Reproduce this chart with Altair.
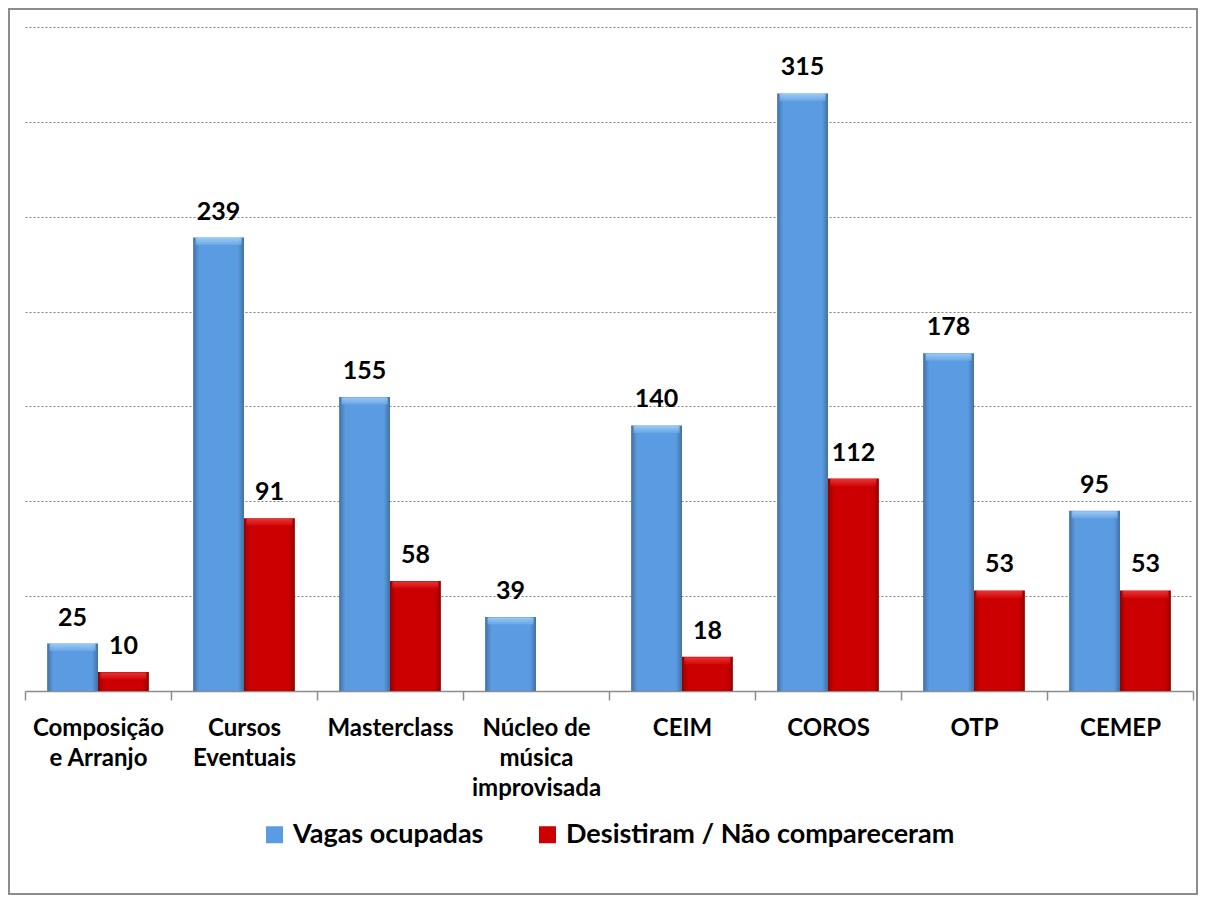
import altair as alt
import pandas as pd

categories = ["Composição\ne Arranjo", "Cursos\nEventuais", "Masterclass",
              "Núcleo de\nmúsica\nimprovisada", "CEIM", "COROS", "OTP", "CEMEP"]
series = ["Vagas ocupadas", "Desistiram / Não compareceram"]
vagas = [25, 239, 155, 39, 140, 315, 178, 95]
desist = [10, 91, 58, 0, 18, 112, 53, 53]

rows = []
for c, v, d in zip(categories, vagas, desist):
    rows.append({"cat": c, "serie": series[0], "valor": v})
    rows.append({"cat": c, "serie": series[1], "valor": d})
df = pd.DataFrame(rows)

BLUE = "#5B9BE1"
RED = "#CC0000"
FONT = "Lato"

x_enc = alt.X("cat:N", sort=categories, title=None,
              scale=alt.Scale(paddingInner=0, paddingOuter=0),
              axis=alt.Axis(labelAngle=0, labelFont=FONT, labelFontSize=24,
                            labelFontWeight="bold", labelColor="#000000",
                            labelLineHeight=30, labelPadding=16, labelLimit=300,
                            labelExpr="isValid(datum.value) ? split(datum.value, '\\n') : ''",
                            tickBand="extent", tickSize=9, tickColor="#8C8C8C",
                            tickWidth=1.5, domainColor="#8C8C8C", domainWidth=1.5,
                            grid=False, labelBaseline="top", labelOverlap=False))
xo_enc = alt.XOffset("serie:N", sort=series,
                     scale=alt.Scale(domain=series, paddingInner=0, paddingOuter=0.436))
y_enc = alt.Y("valor:Q", title=None,
              scale=alt.Scale(domain=[0, 350], nice=False),
              axis=alt.Axis(values=[50, 100, 150, 200, 250, 300, 350], grid=True,
                            gridDash=[2, 2], gridColor="#808080", gridWidth=1,
                            labels=False, ticks=False, domain=False))

base = alt.Chart(df)
xs = alt.X("cat:N", sort=categories)
xos = alt.XOffset("serie:N", sort=series)

bars = base.mark_bar().encode(
    x=x_enc, xOffset=xo_enc, y=y_enc,
    color=alt.Color("serie:N", sort=series,
                    scale=alt.Scale(domain=series, range=[BLUE, RED]),
                    legend=alt.Legend(orient="none", legendX=236, legendY=794,
                                      direction="horizontal", title=None,
                                      symbolType="square", symbolSize=289,
                                      symbolStrokeWidth=0, symbolOpacity=1,
                                      labelFont=FONT, labelFontSize=27,
                                      labelFontWeight="bold", labelColor="#000000",
                                      columnPadding=50, labelOffset=5,
                                      labelLimit=600, padding=0))
)

shade = base.transform_filter("datum.valor > 0").mark_bar(color=alt.LinearGradient(
    gradient="linear", x1=0, x2=1, y1=0, y2=0,
    stops=[alt.GradientStop(color="rgba(0,0,0,0.28)", offset=0),
           alt.GradientStop(color="rgba(0,0,0,0.0)", offset=0.12),
           alt.GradientStop(color="rgba(0,0,0,0.0)", offset=0.88),
           alt.GradientStop(color="rgba(0,0,0,0.28)", offset=1)])
).encode(x=xs, xOffset=xos, y="valor:Q")

def bevel(serie, light, main):
    return base.transform_filter(alt.datum.serie == serie).transform_filter(
        "datum.valor > 0").mark_tick(
        size=46, thickness=7, orient="horizontal",
        color=alt.LinearGradient(gradient="linear", x1=0, x2=0, y1=0, y2=1,
                                 stops=[alt.GradientStop(color=light, offset=0),
                                        alt.GradientStop(color=main, offset=1)])
    ).encode(x=xs, xOffset=xos, y="valor:Q", yOffset=alt.value(4))

bev_b = bevel(series[0], "#B3DDFB", "#6FAAE8")
bev_r = bevel(series[1], "#F24A4A", "#D40A0A")

labels = base.transform_filter("datum.valor > 0").mark_text(
    font=FONT, fontSize=25, fontWeight="bold", color="#000000",
    baseline="alphabetic", dy=-18
).encode(x=xs, xOffset=xos, y="valor:Q", text="valor:Q")

border = alt.Chart(pd.DataFrame({"b": [0]})).mark_rect(
    fill=None, stroke="#8C8C8C", strokeWidth=2
).encode(x=alt.value(-16), x2=alt.value(1172), y=alt.value(-18), y2=alt.value(867))

chart = alt.layer(bars, shade, bev_b, bev_r, labels, border).properties(
    width=1168, height=664,
    padding={"left": 17, "top": 19, "right": 5, "bottom": 205},
    autosize=alt.AutoSizeParams(type="none")
).configure_view(strokeWidth=0)

chart.save("out.html", embed_options={"renderer": "svg", "actions": False})
